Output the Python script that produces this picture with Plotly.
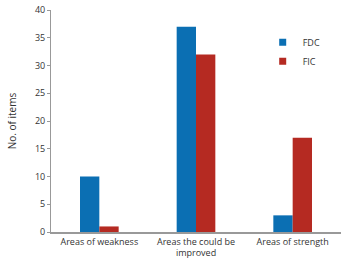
import plotly.graph_objects as go

categories = ["Areas of weakness", "Areas the could be<br>improved", "Areas of strength"]
fdc = [10, 37, 3]
fic = [1, 32, 17]
y_ticks = [0, 5, 10, 15, 20, 25, 30, 35, 40]
series = [("FDC", fdc, "#0b6fb3"), ("FIC", fic, "#b52a22")]

fig = go.Figure()
for name, vals, col in series:
    fig.add_bar(x=categories, y=vals, name=name, marker_color=col,
                marker_line_width=0, showlegend=False)
for name, vals, col in series:
    fig.add_scatter(x=[None], y=[None], mode="markers", name=name,
                    marker=dict(symbol="square", size=7, color=col))

fig.update_layout(
    width=343, height=267,
    margin=dict(l=51, r=2, t=10, b=35),
    paper_bgcolor="white", plot_bgcolor="white",
    barmode="group", bargap=0.6, bargroupgap=0,
    font=dict(family="Open Sans", size=9, color="#333"),
    showlegend=True,
    legend=dict(x=0.73, y=0.92, xanchor="left", yanchor="top",
                bgcolor="rgba(0,0,0,0)", font=dict(size=9),
                tracegroupgap=0),
    xaxis=dict(showline=True, linecolor="#999", linewidth=1.5, ticks="",
               tickfont=dict(size=9), fixedrange=True),
    yaxis=dict(range=[0, 40], tickvals=y_ticks, showline=True, linecolor="#999",
               linewidth=1, ticks="outside", ticklen=3, tickcolor="#999",
               showgrid=False, zeroline=False,
               title=dict(text="No. of items", font=dict(size=10), standoff=16)),
)

fig.write_html("out.html")
